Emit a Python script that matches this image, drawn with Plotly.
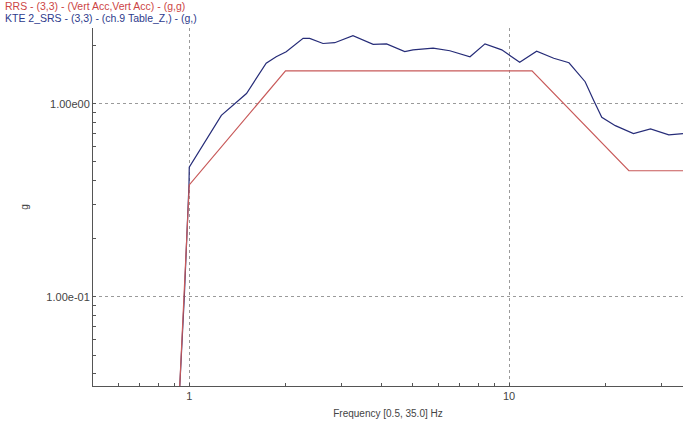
import plotly.graph_objects as go

# Reference response spectrum (RRS)
rrs_freq = [0.93, 0.965, 1.0, 2.0, 11.8, 23.7, 35.0]
rrs_g = [0.03, 0.10, 0.38, 1.48, 1.48, 0.45, 0.45]

# Measured SRS
srs_freq = [0.93, 0.965, 0.998, 1.0, 1.26, 1.37, 1.51, 1.74, 1.87, 2.01, 2.27, 2.38,
            2.62, 2.85, 3.25, 3.76, 4.14, 4.72, 5.01, 5.79, 6.53, 7.55, 8.41,
            9.49, 10.8, 12.2, 13.8, 15.4, 17.3, 18.4, 19.5, 21.5, 24.5, 27.7,
            31.6, 35.0]
srs_g = [0.03, 0.10, 0.38, 0.47, 0.87, 0.98, 1.13, 1.62, 1.75, 1.86, 2.18, 2.18,
         2.05, 2.07, 2.25, 2.03, 2.04, 1.86, 1.90, 1.94, 1.88, 1.75, 2.04,
         1.90, 1.64, 1.87, 1.72, 1.63, 1.30, 1.04, 0.85, 0.77, 0.70, 0.74,
         0.69, 0.70]

x_tickvals = [1, 10]
x_ticktext = ["1", "10"]
x_minor = [0.6, 0.7, 0.8, 0.9, 2, 3, 4, 5, 6, 7, 8, 9, 20, 30]
y_tickvals = [0.1, 1]
y_ticktext = ["1.00e-01", "1.00e00"]
y_minor = [0.04, 0.05, 0.06, 0.07, 0.08, 0.09, 0.2, 0.3, 0.4, 0.5, 0.6, 0.7, 0.8, 0.9, 2]

legend_rrs = "RRS - (3,3) - (Vert Acc,Vert Acc) - (g,g)"
legend_srs = "KTE 2_SRS - (3,3) - (ch.9 Table_Z,) - (g,)"

RED = "#c85a5a"
BLUE = "#262c78"

fig = go.Figure()
fig.add_trace(go.Scatter(x=srs_freq, y=srs_g, mode="lines",
                         line=dict(color=BLUE, width=1.2), name=legend_srs))
fig.add_trace(go.Scatter(x=rrs_freq, y=rrs_g, mode="lines",
                         line=dict(color=RED, width=1.2), name=legend_rrs))

W, H = 689, 424
ml, mr, mt, mb = 93, 6, 28, 38
pw = W - ml - mr

axis_common = dict(
    showline=True, linecolor="#555555", linewidth=1,
    ticks="inside", ticklen=3, tickcolor="#555555",
    showgrid=True, gridcolor="#9a9a9a", griddash="dot", gridwidth=1,
    zeroline=False, automargin=False,
    tickfont=dict(family="Liberation Sans, Arial, sans-serif", size=11, color="#444444"),
    mirror=False,
)

fig.update_layout(
    width=W, height=H,
    margin=dict(l=ml, r=mr, t=mt, b=mb),
    paper_bgcolor="white", plot_bgcolor="white",
    showlegend=False,
    font=dict(family="Liberation Sans, Arial, sans-serif", size=10, color="#444444"),
    xaxis=dict(
        type="log", range=[-0.30103, 1.544068],
        tickmode="array", tickvals=x_tickvals, ticktext=x_ticktext,
        minor=dict(tickmode="array", tickvals=x_minor, ticks="inside",
                   ticklen=3, tickcolor="#555555", showgrid=False),
        title=dict(text="Frequency [0.5, 35.0] Hz", standoff=8,
                   font=dict(size=10, color="#444444")),
        **axis_common,
    ),
    yaxis=dict(
        type="log", range=[-1.461, 0.392],
        tickmode="array", tickvals=y_tickvals, ticktext=y_ticktext,
        minor=dict(tickmode="array", tickvals=y_minor, ticks="inside",
                   ticklen=3, tickcolor="#555555", showgrid=False),
        title=dict(text="g", standoff=15, font=dict(size=10, color="#444444")),
        **axis_common,
    ),
    annotations=[
        dict(text=legend_rrs, xref="paper", yref="paper",
             x=(4 - ml) / pw, y=1, yshift=mt + 1, xanchor="left", yanchor="top",
             showarrow=False, borderpad=0, font=dict(size=10.5, color="#cc4444")),
        dict(text=legend_srs, xref="paper", yref="paper",
             x=(4 - ml) / pw, y=1, yshift=mt - 11, xanchor="left", yanchor="top",
             showarrow=False, borderpad=0, font=dict(size=10.5, color="#2d3a8c")),
    ],
)

fig.write_html("out.html",
               config={"displayModeBar": False},
               post_script="document.body.style.margin='0';document.body.style.overflow='hidden';")
